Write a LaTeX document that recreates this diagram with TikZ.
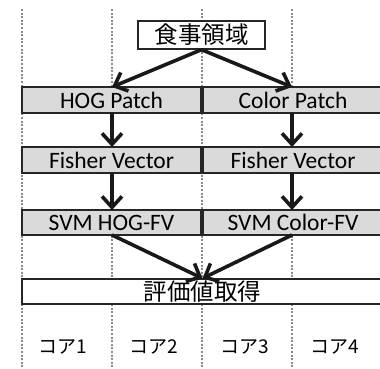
\documentclass[tikz,border=0pt]{standalone}
\usepackage{fontspec}
\setmainfont{Carlito}
\newfontfamily\jp{Noto Sans CJK JP}
\usetikzlibrary{arrows.meta}
\definecolor{boxfill}{HTML}{DADADA}
\definecolor{dotgray}{HTML}{8C8C8C}
\tikzset{
  lane/.style={dotgray, line width=2.2pt, dash pattern=on 2pt off 1.6pt},
  procbox/.style={draw=black!85, line width=1.3pt, fill=boxfill, minimum height=26pt, inner sep=0pt, font=\fontsize{23.5}{26}\selectfont},
  whitebox/.style={draw=black!85, line width=1.3pt, fill=white, inner sep=0pt, font=\jp\fontsize{23.5}{26}\selectfont},
  flow/.style={line width=3.6pt, -{Straight Barb[length=11pt,width=20pt]}, black!90},
  corelabel/.style={font=\jp\fontsize{19}{21}\selectfont, inner sep=0pt}
}
\begin{document}
\begin{tikzpicture}[x=1pt,y=-1pt]
\useasboundingbox (0,0) rectangle (380,369);
\clip (0,0) rectangle (380,369);
% lanes
\foreach \x in {22,112,202,292} \draw[lane] (\x,9) -- (\x,368);
% boxes
\node[whitebox, minimum width=127pt, minimum height=28pt] (food) at (201.5,35) {食事領域};
\node[procbox, minimum width=179pt] (hogp) at (111.5,100) {HOG Patch};
\node[procbox, minimum width=180pt] (colp) at (293,100) {Color Patch};
\node[procbox, minimum width=179pt] (fvl) at (111.5,160) {Fisher Vector};
\node[procbox, minimum width=180pt] (fvr) at (293,160) {Fisher Vector};
\node[procbox, minimum width=179pt, minimum height=25pt] (svml) at (111.5,222.5) {SVM HOG-FV};
\node[procbox, minimum width=180pt, minimum height=25pt] (svmr) at (293,222.5) {SVM Color-FV};
\node[whitebox, minimum width=361pt, minimum height=25pt] (eval) at (202.5,291.5) {評価値取得};
% anchor coordinates
\coordinate (hogtop) at (112,87);
\coordinate (coltop) at (292,87);
\coordinate (hogbot) at (112,113);
\coordinate (colbot) at (292,113);
\coordinate (fvltop) at (112,147);
\coordinate (fvrtop) at (292,147);
\coordinate (fvlbot) at (112,173);
\coordinate (fvrbot) at (292,173);
\coordinate (svmltop) at (112,210);
\coordinate (svmrtop) at (292,210);
\coordinate (svmlbot) at (112,235);
\coordinate (svmrbot) at (292,235);
% arrows
\draw[flow] (food.south) -- (hogtop);
\draw[flow] (food.south) -- (coltop);
\draw[flow] (hogbot) -- (fvltop);
\draw[flow] (colbot) -- (fvrtop);
\draw[flow] (fvlbot) -- (svmltop);
\draw[flow] (fvrbot) -- (svmrtop);
\draw[flow] (svmlbot) -- (eval.north);
\draw[flow] (svmrbot) -- (eval.north);
% core labels
\node[corelabel] (c1) at (63,347) {コア1};
\node[corelabel] (c2) at (154,347) {コア2};
\node[corelabel] (c3) at (245,347) {コア3};
\node[corelabel] (c4) at (335,347) {コア4};
\end{tikzpicture}
\end{document}
